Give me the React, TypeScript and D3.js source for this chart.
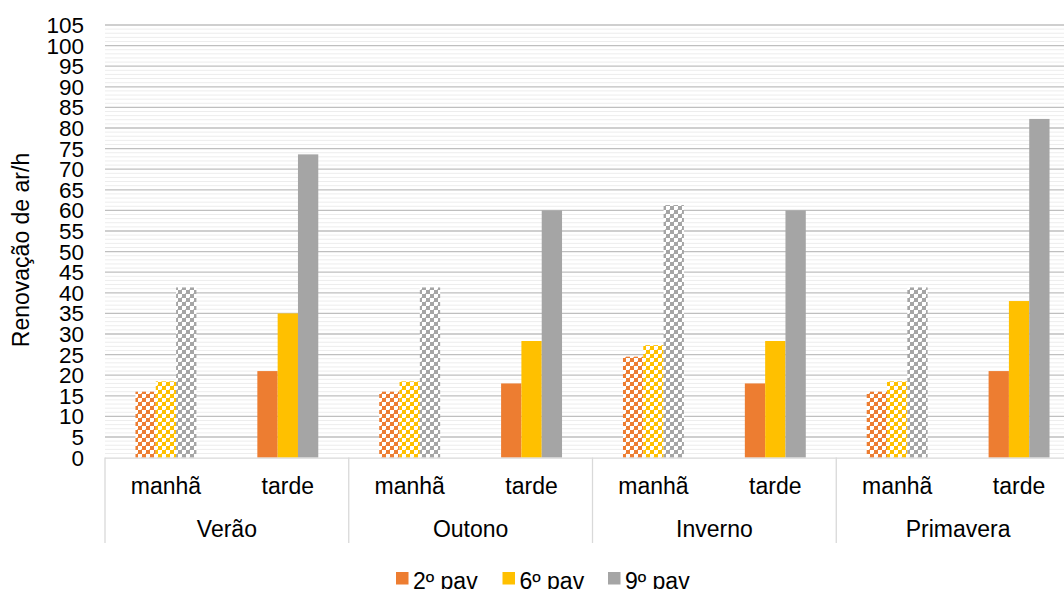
import React, { useEffect, useRef } from "react";
import * as d3 from "d3";

const seasons = ["Verão", "Outono", "Inverno", "Primavera"];
const periods = ["manhã", "tarde"];
const seriesNames = ["2º pav", "6º pav", "9º pav"];
const seriesColors = ["#ED7D31", "#FFC000", "#A5A5A5"];
// values per season, [manhã, tarde]
const pav2 = [16, 21, 16, 18, 24.5, 18, 16, 21];
const pav6 = [18.5, 35, 18.5, 28.3, 27.3, 28.3, 18.5, 38];
const pav9 = [41.3, 73.6, 41.3, 60, 61.3, 60, 41.3, 82.2];
const yTicks = d3.range(0, 106, 5);
const yMax = 105;
const yTitle = "Renovação de ar/h";

export default function App() {
  const ref = useRef<SVGSVGElement | null>(null);

  useEffect(() => {
    document.body.style.margin = "0";
    const W = 1064, H = 589;
    const left = 105, right = 1080, top = 25, bottom = 457.6;
    const svg = d3.select(ref.current);
    svg.selectAll("*").remove();
    const font = "'Liberation Sans', Arial, sans-serif";

    const defs = svg.append("defs");
    seriesColors.forEach((c, i) => {
      const p = defs.append("pattern").attr("id", "pat" + i)
        .attr("patternUnits", "userSpaceOnUse").attr("width", 8).attr("height", 8);
      p.append("rect").attr("width", 8).attr("height", 8).attr("fill", "#fff");
      const pts = [[0, 0], [2, 2], [4, 4], [6, 6], [0, 6], [2, 4], [4, 2], [6, 0]];
      pts.forEach(([x, y]) => {
        p.append("rect").attr("x", x).attr("y", y).attr("width", 2).attr("height", 2).attr("fill", c);
      });
      [[1, 1], [5, 5], [1, 5], [5, 1]].forEach(([x, y]) => {
        p.append("rect").attr("x", x).attr("y", y).attr("width", 1).attr("height", 1).attr("fill", c).attr("opacity", 0.6);
      });
    });

    const cats = seasons.flatMap(s => periods.map(p => s + "|" + p));
    const x0 = d3.scaleBand<string>().domain(cats).range([left, right]).paddingInner(0.5).paddingOuter(0.25);
    const xSeason = d3.scaleBand<string>().domain(seasons).range([left, right]);
    const x1 = d3.scaleBand<string>().domain(seriesNames).range([0, x0.bandwidth()]);
    const y = d3.scaleLinear().domain([0, yMax]).range([bottom, top]);

    // minor grid
    const g = svg.append("g");
    g.selectAll("line.minor").data(d3.range(0, yMax + 1, 1).filter(v => v % 5 !== 0)).join("line")
      .attr("x1", left).attr("x2", W).attr("y1", d => y(d)).attr("y2", d => y(d))
      .attr("stroke", "#ededed").attr("stroke-width", 1);
    g.selectAll("line.major").data(yTicks.filter(v => v !== 0)).join("line")
      .attr("x1", left).attr("x2", W).attr("y1", d => y(d)).attr("y2", d => y(d))
      .attr("stroke", "#bfbfbf").attr("stroke-width", 1.3);

    const all = [pav2, pav6, pav9];
    cats.forEach((c, ci) => {
      const isMorning = c.endsWith("manhã");
      seriesNames.forEach((s, si) => {
        const v = all[si][ci];
        svg.append("rect")
          .attr("x", (x0(c) as number) + (x1(s) as number))
          .attr("y", y(v))
          .attr("width", x1.bandwidth())
          .attr("height", bottom - y(v))
          .attr("fill", isMorning ? `url(#pat${si})` : seriesColors[si]);
      });
    });

    // x axis line and separators
    svg.append("line").attr("x1", left).attr("x2", W).attr("y1", bottom + 0.5).attr("y2", bottom + 0.5)
      .attr("stroke", "#d9d9d9").attr("stroke-width", 1.3);
    seasons.forEach(s => {
      const xx = xSeason(s) as number;
      svg.append("line").attr("x1", xx).attr("x2", xx).attr("y1", bottom).attr("y2", 543)
        .attr("stroke", "#d9d9d9").attr("stroke-width", 1.3);
      svg.append("text").attr("x", xx + xSeason.bandwidth() / 2).attr("y", 537)
        .attr("text-anchor", "middle").attr("font-family", font).attr("font-size", 23).attr("fill", "#000")
        .text(s);
    });
    cats.forEach(c => {
      svg.append("text").attr("x", (x0(c) as number) + x0.bandwidth() / 2).attr("y", 494)
        .attr("text-anchor", "middle").attr("font-family", font).attr("font-size", 23).attr("fill", "#000")
        .text(c.split("|")[1]);
    });

    // y tick labels
    svg.selectAll("text.yt").data(yTicks).join("text")
      .attr("x", 84).attr("y", d => y(d) + 8)
      .attr("text-anchor", "end").attr("font-family", font).attr("font-size", 22.5).attr("fill", "#000")
      .text(d => String(d));

    svg.append("text").attr("transform", `translate(29,250) rotate(-90)`)
      .attr("text-anchor", "middle").attr("font-family", font).attr("font-size", 23).attr("fill", "#000")
      .text(yTitle);

    // legend
    const legX = [396, 502.5, 608];
    seriesNames.forEach((s, i) => {
      svg.append("rect").attr("x", legX[i]).attr("y", 572).attr("width", 12.5).attr("height", 12.5)
        .attr("fill", seriesColors[i]);
      svg.append("text").attr("x", legX[i] + 17).attr("y", 588.5)
        .attr("font-family", font).attr("font-size", 23).attr("fill", "#000").text(s);
    });

    svg.attr("width", W).attr("height", H);
  }, []);

  return <svg ref={ref} width={1064} height={589} style={{ display: "block" }} />;
}
